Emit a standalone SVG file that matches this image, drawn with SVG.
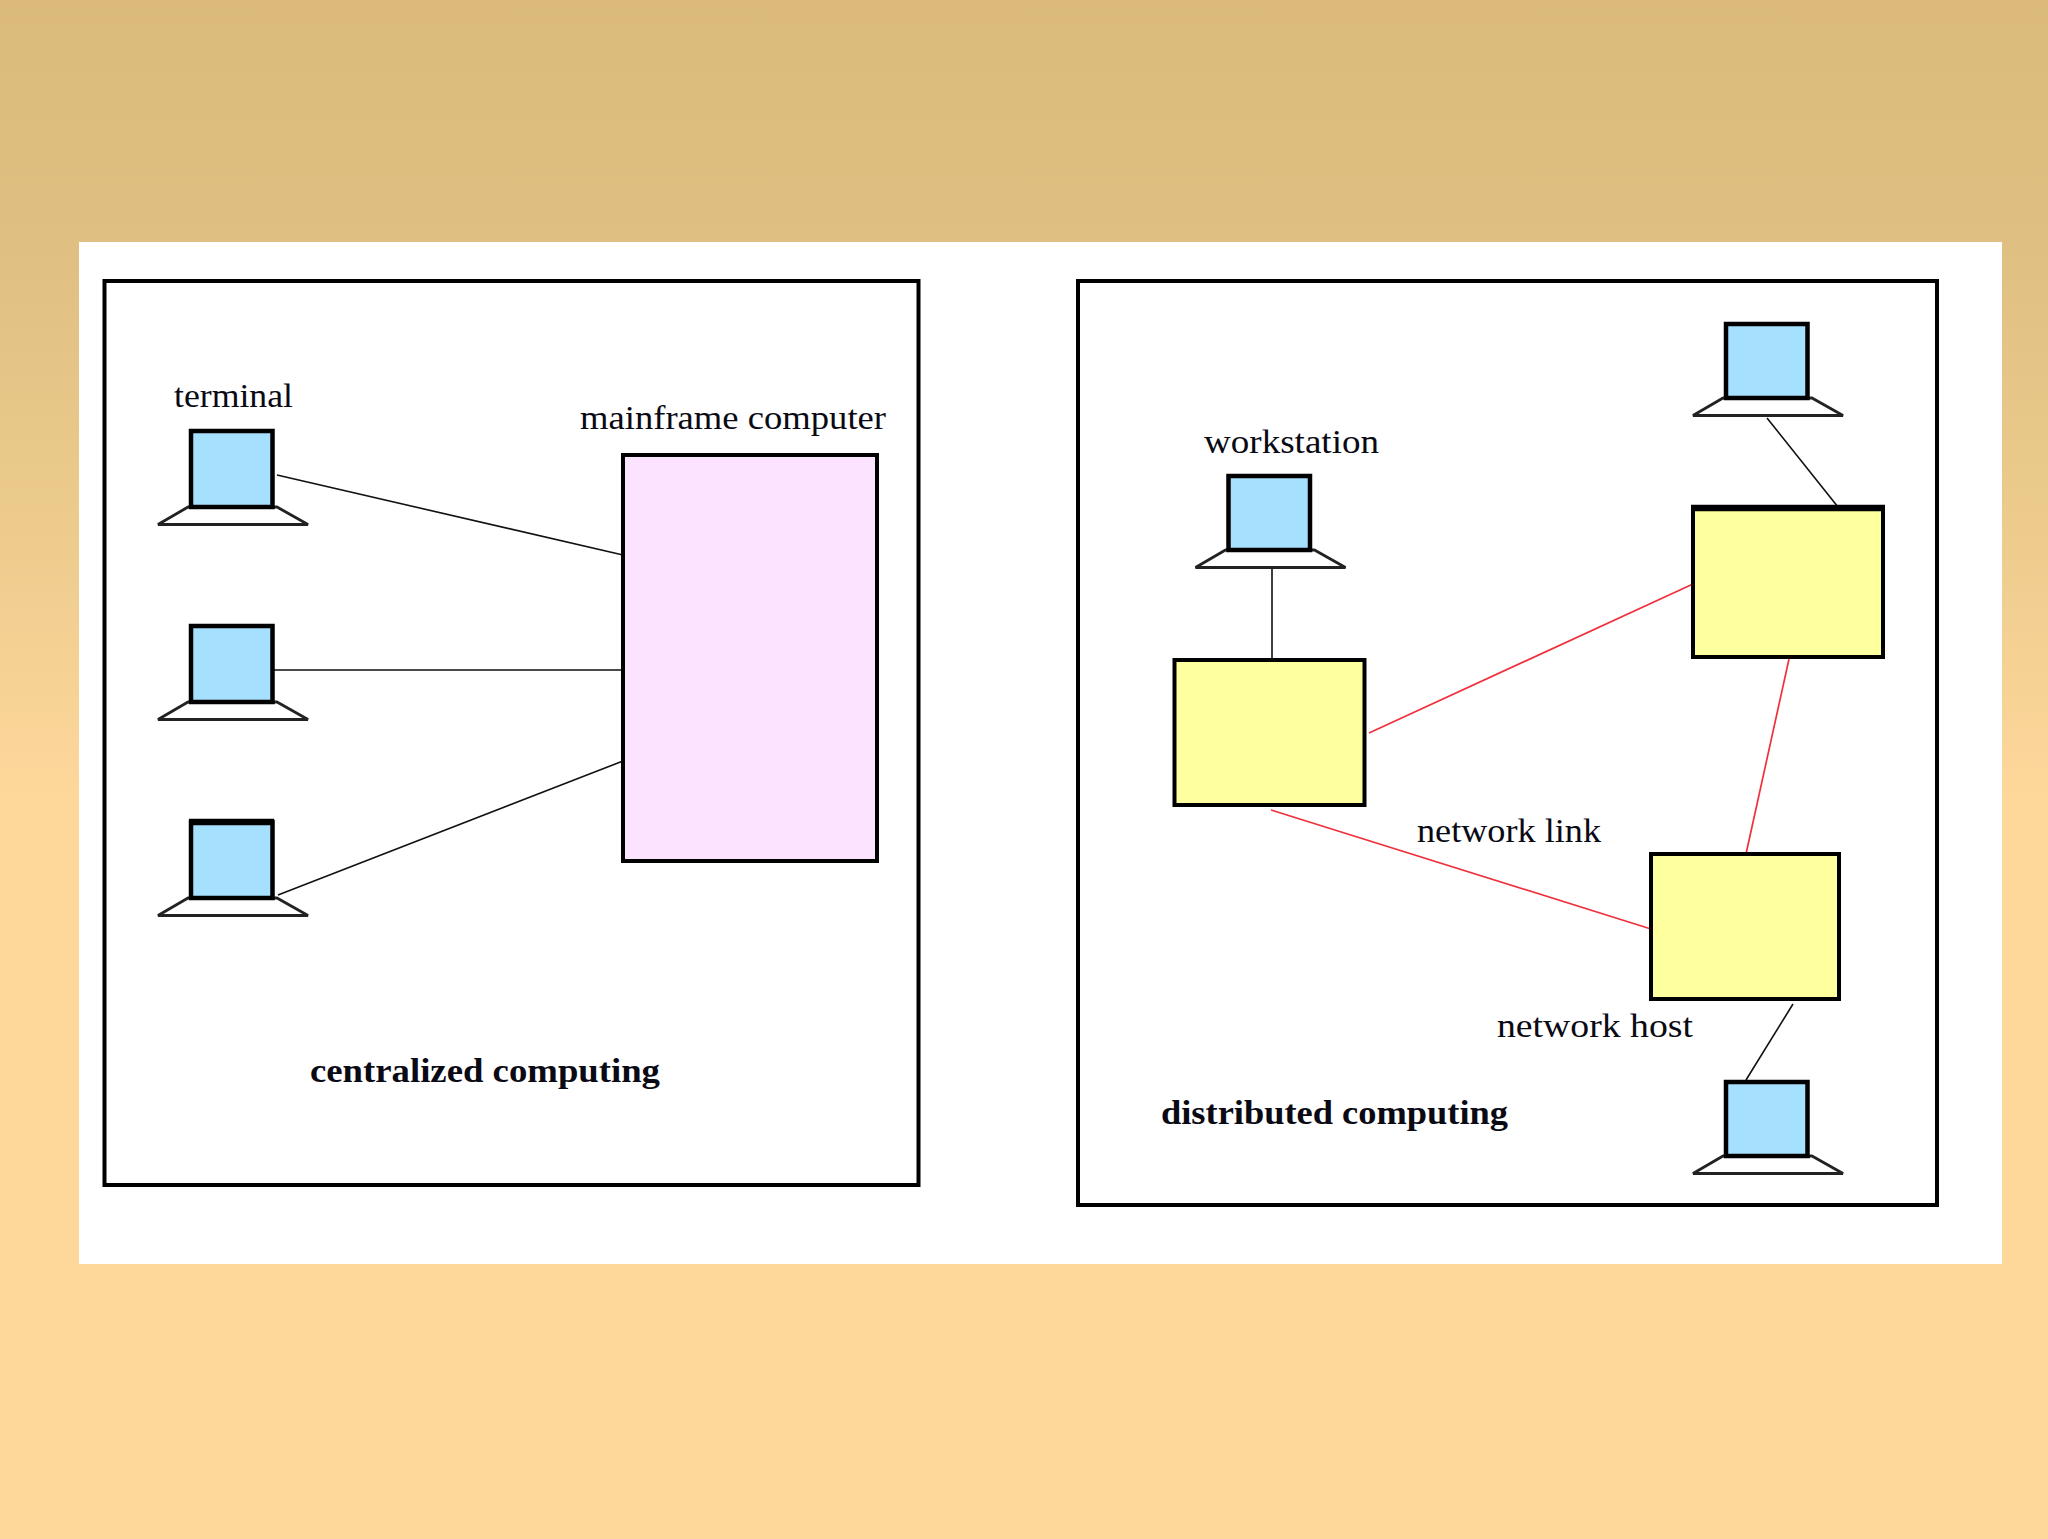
<svg xmlns="http://www.w3.org/2000/svg" width="2048" height="1539" viewBox="0 0 2048 1539">
<style>
.frame{fill:none;stroke:#000;stroke-width:4}
.screen{fill:#a6e0ff;stroke:#000;stroke-width:4.500}
.base{fill:#fff;stroke:#222;stroke-width:2.800;stroke-linejoin:bevel}
.host{fill:#feff9f;stroke:#000;stroke-width:4}
.main{fill:#fce3ff;stroke:#000;stroke-width:4}
.cap{stroke:#000;stroke-width:6.500;fill:none}
.k{stroke:#111;stroke-width:1.600;fill:none}
.r{stroke:#f0303c;stroke-width:1.700;fill:none}
text{font-family:"Liberation Serif","Times New Roman",serif;font-size:33px;fill:#0a0a14}
.b{font-weight:bold}
</style>
<defs>
<linearGradient id="bg" x1="0" y1="0" x2="0" y2="1">
<stop offset="0" stop-color="#dbba7b"/>
<stop offset="0.16" stop-color="#e0c082"/>
<stop offset="0.34" stop-color="#eccb8d"/>
<stop offset="0.52" stop-color="#fed79b"/>
<stop offset="1" stop-color="#fed79b"/>
</linearGradient>
<g id="pc">
<path class="base" d="M-3 76L-33 93.500H117L86 76Z"/>
<rect class="screen" x="0" y="0" width="81.500" height="76"/>
</g>
<g id="pc2">
<path class="base" d="M-3 74L-33 91.500H117L86 74Z"/>
<rect class="screen" x="0" y="0" width="81.500" height="74"/>
</g>
</defs>
<rect width="2048" height="1539" fill="url(#bg)"/>
<rect x="79" y="242" width="1923" height="1022" fill="#fff"/>
<rect class="frame" x="104.500" y="281" width="814" height="904"/>
<rect class="frame" x="1078" y="281" width="859" height="924"/>
<g id="connectors">
<path class="k" d="M277 475L623 555M273 670H623M278 895L623 761"/>
<path class="k" d="M1272 569V660M1767 418L1838 507M1793 1004L1746 1080"/>
<path class="r" d="M1369 733L1693 584M1789 659L1746 854M1271 810L1651 929"/>
</g>
<g id="terminal-1"><use href="#pc" x="191" y="431"/></g>
<g id="terminal-2"><use href="#pc" x="191" y="626"/></g>
<g id="terminal-3"><use href="#pc" x="191" y="822"/><path class="cap" d="M189 822H274"/></g>
<g id="mainframe"><rect class="main" x="623" y="455" width="254" height="406"/></g>
<g id="workstation-1"><use href="#pc2" x="1228.500" y="476"/></g>
<g id="workstation-2"><use href="#pc2" x="1726" y="324"/></g>
<g id="workstation-3"><use href="#pc2" x="1726" y="1082"/></g>
<g id="host-1"><rect class="host" x="1174.500" y="660" width="190" height="145"/></g>
<g id="host-2"><rect class="host" x="1693" y="508" width="190" height="149"/><path class="cap" d="M1691 508H1885"/></g>
<g id="host-3"><rect class="host" x="1651" y="854" width="188" height="145"/></g>
<g id="labels">
<text x="174" y="407" textLength="119" lengthAdjust="spacingAndGlyphs">terminal</text>
<text x="580" y="429" textLength="306" lengthAdjust="spacingAndGlyphs">mainframe computer</text>
<text x="1204" y="453" textLength="175" lengthAdjust="spacingAndGlyphs">workstation</text>
<text x="1417" y="842" textLength="184" lengthAdjust="spacingAndGlyphs">network link</text>
<text x="1497" y="1037" textLength="196" lengthAdjust="spacingAndGlyphs">network host</text>
<text class="b" x="310" y="1082" textLength="350" lengthAdjust="spacingAndGlyphs">centralized computing</text>
<text class="b" x="1161" y="1124" textLength="347" lengthAdjust="spacingAndGlyphs">distributed computing</text>
</g>
</svg>
